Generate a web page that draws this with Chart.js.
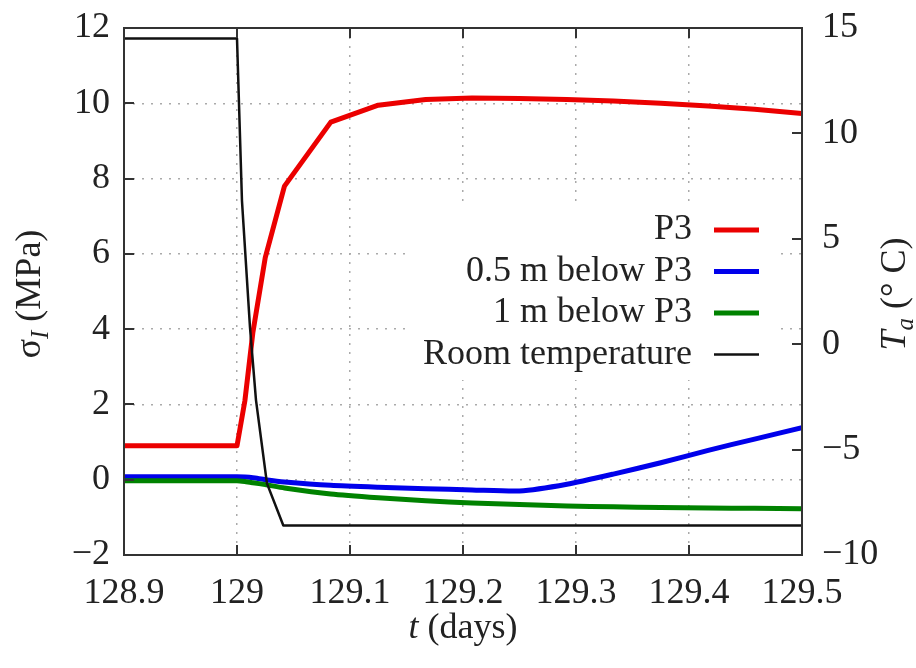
<!DOCTYPE html>
<html>
<head>
<meta charset="utf-8">
<script src="https://cdn.jsdelivr.net/npm/chart.js@4"></script>
<style>
  html, body { margin: 0; padding: 0; background: #fff; }
  #wrap { width: 916px; height: 668px; }
</style>
</head>
<body>
<div id="wrap"><canvas id="stressChart" width="916" height="668"></canvas></div>
<script>
// time stamps (days) for the stress gauges
var stressT = [128.9, 129.0, 129.007, 129.014, 129.025, 129.042, 129.083, 129.125, 129.167, 129.208, 129.25, 129.292, 129.333, 129.375, 129.417, 129.458, 129.5];
// principal stress (MPa)
var sP3   = [0.9, 0.9, 2.1, 3.9, 5.9, 7.8, 9.5, 9.95, 10.1, 10.14, 10.13, 10.1, 10.06, 10.0, 9.93, 9.84, 9.73];
var sP3_05 = [0.08, 0.08, 0.07, 0.05, 0.0, -0.06, -0.15, -0.2, -0.24, -0.27, -0.3, -0.12, 0.15, 0.45, 0.78, 1.08, 1.38];
var sP3_1  = [-0.03, -0.03, -0.05, -0.08, -0.13, -0.22, -0.38, -0.48, -0.56, -0.62, -0.66, -0.7, -0.72, -0.74, -0.75, -0.76, -0.77];

// room temperature record
var tempT = [128.9, 129.0, 129.0044, 129.0115, 129.0168, 129.0265, 129.041, 129.5];
var tempC = [14.5, 14.5, 6.8, 0.8, -2.65, -6.6, -8.6, -8.6];

var seriesNames = ["P3", "0.5 m below P3", "1 m below P3", "Room temperature"];
var seriesColors = ["rgb(235,0,0)", "rgb(0,0,235)", "rgb(0,130,0)", "#111"];

var xTicks = [128.9, 129.5, 0.1];   // min, max, step
var yTicks = [-2, 12, 2];
var y2Ticks = [-10, 15, 5];

var FONT = "'Liberation Serif', 'Times New Roman', serif";
var FS = 36;

function pts(xs, ys) {
	return xs.map(function(x, i) { return {x: x, y: ys[i]}; });
}
function minusFmt(v) {
	return (v < 0 ? "\u2212" : "") + Math.abs(v);
}
// fixed box sizes, no extra room for overhanging labels
function fixBox(w, h) {
	return function(s) {
		if (w) s.width = w;
		if (h) s.height = h;
		s.paddingTop = 0; s.paddingBottom = 0;
		s.paddingLeft = 0; s.paddingRight = 0;
	};
}

// frame, inward ticks, legend and axis titles
var decor = {
	id: "decor",
	beforeDatasetsDraw: function(chart) {
		var c = chart.ctx;
		c.save();
		c.fillStyle = "#fff";
		c.fillRect(405, 205, 370, 175);
		c.restore();
	},
	afterDatasetsDraw: function(chart) {
		var c = chart.ctx, a = chart.chartArea;
		var sx = chart.scales.x, sy = chart.scales.y, sy2 = chart.scales.y2;
		c.save();
		c.strokeStyle = "#333";
		c.lineWidth = 2;
		c.strokeRect(a.left, a.top, a.right - a.left, a.bottom - a.top);
		var tl = 10;
		c.beginPath();
		sx.ticks.forEach(function(t) {
			var px = Math.round(sx.getPixelForValue(t.value));
			c.moveTo(px, a.bottom); c.lineTo(px, a.bottom - tl);
			c.moveTo(px, a.top); c.lineTo(px, a.top + tl);
		});
		sy.ticks.forEach(function(t) {
			var py = Math.round(sy.getPixelForValue(t.value));
			c.moveTo(a.left, py); c.lineTo(a.left + tl, py);
		});
		sy2.ticks.forEach(function(t) {
			var py = Math.round(sy2.getPixelForValue(t.value));
			c.moveTo(a.right, py); c.lineTo(a.right - tl, py);
		});
		c.stroke();

		// legend
		c.font = FS + "px " + FONT;
		c.textAlign = "right";
		c.textBaseline = "middle";
		seriesNames.forEach(function(name, i) {
			var y = 230 + i * 41.5;
			c.fillStyle = "#222";
			c.fillText(name, 692, y);
			c.strokeStyle = seriesColors[i];
			c.lineWidth = i == 3 ? 2.5 : 5;
			c.beginPath();
			c.moveTo(714, y); c.lineTo(759, y);
			c.stroke();
		});

		// axis titles
		c.fillStyle = "#222";
		c.textAlign = "left";
		c.textBaseline = "alphabetic";
		var it = "italic " + FS + "px " + FONT, rg = FS + "px " + FONT, sub = "italic " + Math.round(FS * 0.7) + "px " + FONT;
		function runs(parts, cx, cy, rot) {
			var w = 0;
			parts.forEach(function(p) { c.font = p[1]; w += c.measureText(p[0]).width; });
			c.save();
			c.translate(cx, cy);
			c.rotate(rot);
			var x = -w / 2;
			parts.forEach(function(p) {
				c.font = p[1];
				c.fillText(p[0], x, p[2] || 0);
				x += c.measureText(p[0]).width;
			});
			c.restore();
		}
		runs([["t", it], [" (days)", rg]], (a.left + a.right) / 2, 638, 0);
		runs([["\u03c3", rg], ["I", sub, 8], [" (MPa)", rg]], 40, 294, -Math.PI / 2);
		runs([["T", it], ["a", sub, 8], [" (\u00b0 C)", rg]], 905, 294, -Math.PI / 2);
		c.restore();
	}
};

var tickFont = { family: FONT, size: FS };

new Chart(document.getElementById("stressChart"), {
	type: "line",
	data: {
		datasets: [
			{ label: seriesNames[0], data: pts(stressT, sP3), borderColor: seriesColors[0], borderWidth: 5, yAxisID: "y", order: 4 },
			{ label: seriesNames[1], data: pts(stressT, sP3_05), borderColor: seriesColors[1], borderWidth: 5, yAxisID: "y", order: 3, tension: 0.2 },
			{ label: seriesNames[2], data: pts(stressT, sP3_1), borderColor: seriesColors[2], borderWidth: 5, yAxisID: "y", order: 2, tension: 0.2 },
			{ label: seriesNames[3], data: pts(tempT, tempC), borderColor: seriesColors[3], borderWidth: 2.5, yAxisID: "y2", order: 1 }
		]
	},
	options: {
		responsive: false,
		animation: false,
		parsing: false,
		elements: { point: { radius: 0 }, line: { borderCapStyle: "butt", borderJoinStyle: "round" } },
		layout: { padding: { top: 28, left: 0, right: 0, bottom: 0 } },
		plugins: { legend: { display: false }, tooltip: { enabled: false } },
		scales: {
			x: {
				type: "linear",
				min: xTicks[0], max: xTicks[1],
				afterFit: fixBox(0, 113),
				grid: { color: "#aaa", lineWidth: 1.5, drawTicks: false },
				border: { display: false, dash: [2, 7] },
				ticks: { stepSize: xTicks[2], color: "#222", font: tickFont, padding: 17, maxRotation: 0,
					callback: function(v) { return String(+v.toFixed(1)); } }
			},
			y: {
				type: "linear", position: "left",
				min: yTicks[0], max: yTicks[1],
				afterFit: fixBox(124, 0),
				grid: { color: "#aaa", lineWidth: 1.5, drawTicks: false },
				border: { display: false, dash: [2, 7] },
				ticks: { stepSize: yTicks[2], color: "#222", font: tickFont, padding: 14, callback: minusFmt }
			},
			y2: {
				type: "linear", position: "right",
				min: y2Ticks[0], max: y2Ticks[1],
				afterFit: fixBox(114, 0),
				grid: { display: false, drawTicks: false },
				border: { display: false },
				ticks: { stepSize: y2Ticks[2], color: "#222", font: tickFont, padding: 20, callback: minusFmt }
			}
		}
	},
	plugins: [decor]
});
</script>
</body>
</html>
